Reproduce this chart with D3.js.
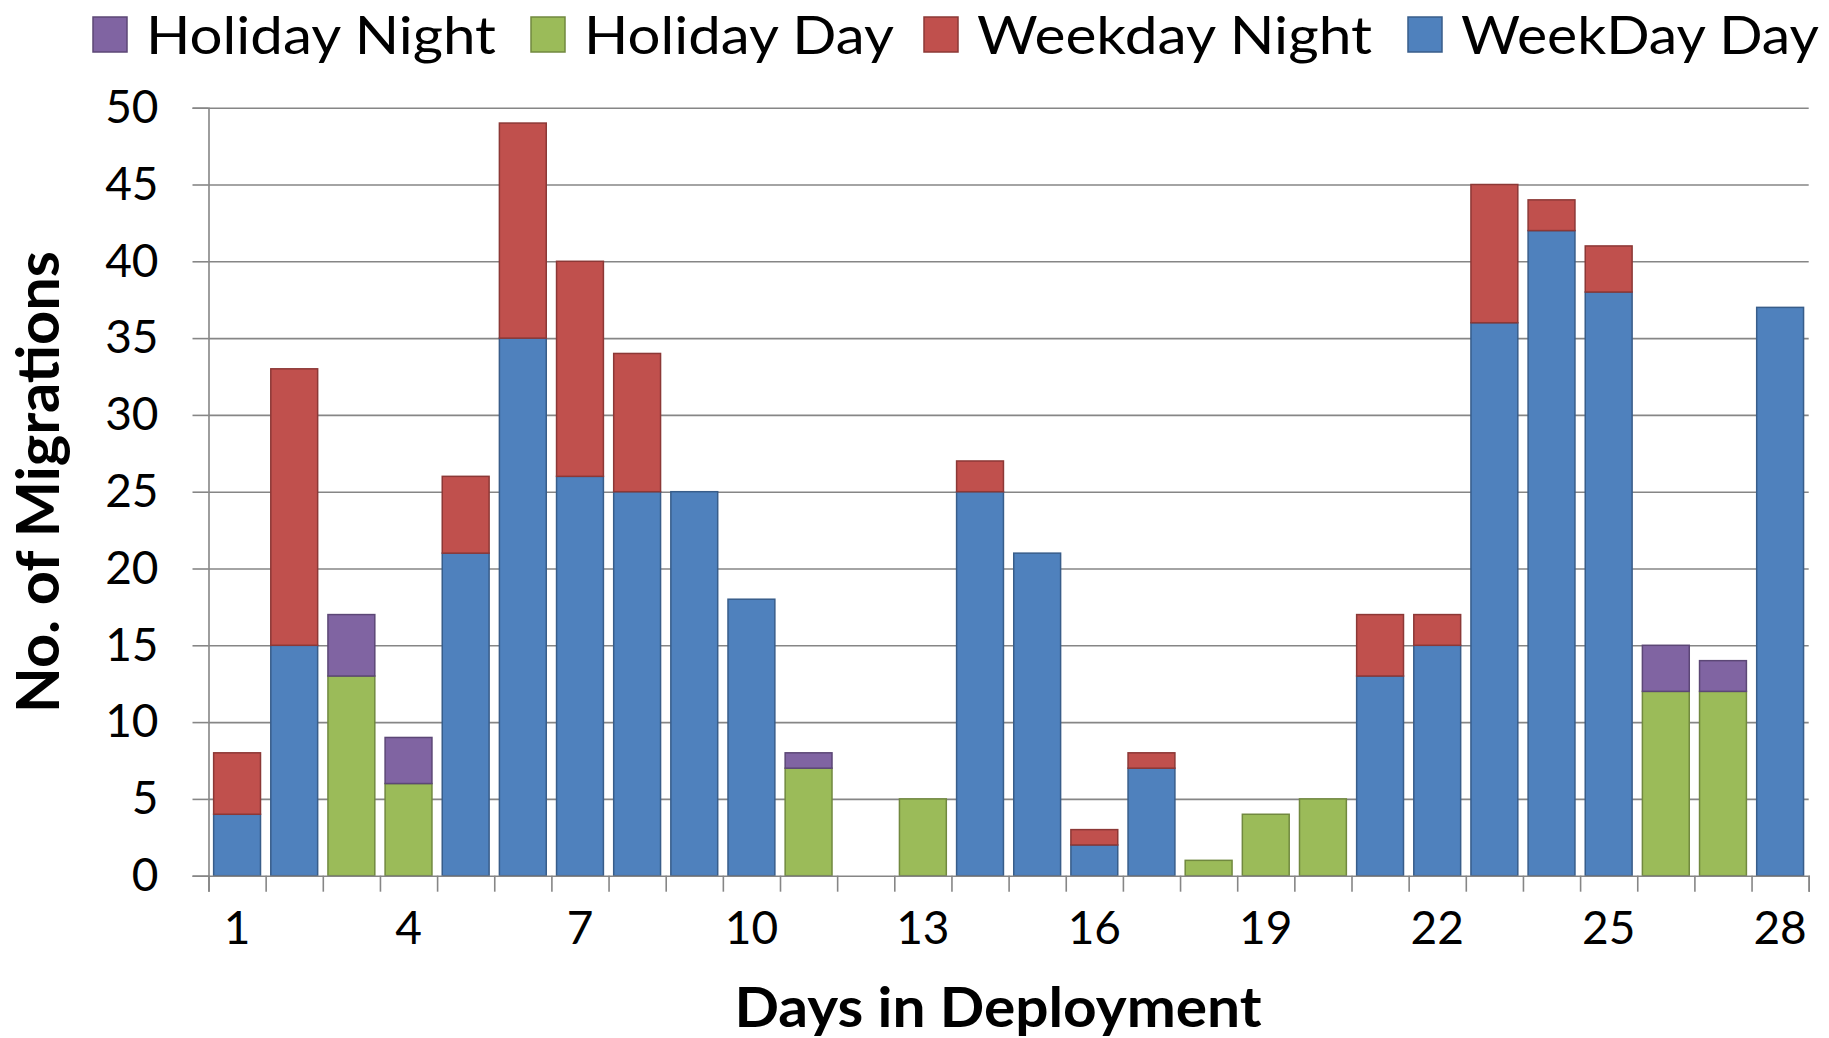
<!DOCTYPE html>
<html>
<head>
<meta charset="utf-8">
<script src="https://cdn.jsdelivr.net/npm/d3@7"></script>
<style>
  html, body { margin: 0; padding: 0; background: #ffffff; }
  svg { display: block; }
  text { font-family: Lato, "Open Sans", sans-serif; fill: #000; }
</style>
</head>
<body>
<svg id="chart" width="1829" height="1038"></svg>
<script>
// Migrations per deployment day, split by day type and time of day
const days = [1, 2, 3, 4, 5, 6, 7, 8, 9, 10, 11, 12, 13, 14, 15, 16, 17, 18, 19, 20, 21, 22, 23, 24, 25, 26, 27, 28];
const weekdayDay   = [4, 15, 0, 0, 21, 35, 26, 25, 25, 18, 0, 0, 0, 25, 21, 2, 7, 0, 0, 0, 13, 15, 36, 42, 38, 0, 0, 37];
const weekdayNight = [4, 18, 0, 0, 5, 14, 14, 9, 0, 0, 0, 0, 0, 2, 0, 1, 1, 0, 0, 0, 4, 2, 9, 2, 3, 0, 0, 0];
const holidayDay   = [0, 0, 13, 6, 0, 0, 0, 0, 0, 0, 7, 0, 5, 0, 0, 0, 0, 1, 4, 5, 0, 0, 0, 0, 0, 12, 12, 0];
const holidayNight = [0, 0, 4, 3, 0, 0, 0, 0, 0, 0, 1, 0, 0, 0, 0, 0, 0, 0, 0, 0, 0, 0, 0, 0, 0, 3, 2, 0];

const yTicks = [0, 5, 10, 15, 20, 25, 30, 35, 40, 45, 50];
const xTickLabels = [1, 4, 7, 10, 13, 16, 19, 22, 25, 28];

// Series, bottom of the stack first
const seriesKeys = ["weekdayDay", "weekdayNight", "holidayDay", "holidayNight"];
const seriesValues = { weekdayDay, weekdayNight, holidayDay, holidayNight };
const seriesStyle = {
  weekdayDay:   { fill: "#4F81BD", stroke: "#385D8A", label: "WeekDay Day" },
  weekdayNight: { fill: "#C0504D", stroke: "#8C3836", label: "Weekday Night" },
  holidayDay:   { fill: "#9BBB59", stroke: "#71893F", label: "Holiday Day" },
  holidayNight: { fill: "#8064A2", stroke: "#5C4776", label: "Holiday Night" }
};
const legendOrder = ["holidayNight", "holidayDay", "weekdayNight", "weekdayDay"];

const rows = days.map((d, i) => {
  const r = { day: d };
  seriesKeys.forEach(k => { r[k] = seriesValues[k][i]; });
  return r;
});

const svg = d3.select("#chart");
const plot = { left: 208.5, right: 1808.7, top: 107.7, bottom: 875.7 };
const axisColor = "#868686";

const x = d3.scaleBand()
  .domain(days)
  .range([plot.left, plot.right])
  .paddingInner(0.18)
  .paddingOuter(0.09);

const xEdges = d3.scaleLinear().domain([0, days.length]).range([plot.left, plot.right]);

const y = d3.scaleLinear().domain([0, 50]).range([plot.bottom, plot.top]);

// Horizontal gridlines
const grid = svg.append("g")
  .attr("transform", `translate(${plot.left},0)`)
  .call(d3.axisLeft(y).tickValues(yTicks.filter(v => v > 0)).tickSize(-(plot.right - plot.left)).tickFormat(""));
grid.select(".domain").remove();
grid.selectAll(".tick line").attr("stroke", axisColor).attr("stroke-width", 1.6);

// Stacked bars
const stacked = d3.stack().keys(seriesKeys)(rows);
svg.append("g").selectAll("g")
  .data(stacked)
  .join("g")
  .attr("fill", s => seriesStyle[s.key].fill)
  .attr("stroke", s => seriesStyle[s.key].stroke)
  .attr("stroke-width", 1.5)
  .selectAll("rect")
  .data(s => s.filter(d => d[1] > d[0]))
  .join("rect")
  .attr("x", d => x(d.data.day))
  .attr("width", x.bandwidth())
  .attr("y", d => y(d[1]))
  .attr("height", d => y(d[0]) - y(d[1]));

// Y axis with outward ticks and labels
const yAxis = svg.append("g")
  .attr("transform", `translate(${plot.left},0)`)
  .call(d3.axisLeft(y).tickValues(yTicks).tickSize(16).tickPadding(34));
yAxis.select(".domain").attr("stroke", axisColor).attr("stroke-width", 1.6);
yAxis.selectAll(".tick line").attr("stroke", axisColor).attr("stroke-width", 1.6);
yAxis.selectAll(".tick text")
  .style("font-size", "46px")
  .style("font-family", "Lato, sans-serif")
  .attr("fill", "#000");

// X axis: tick marks on category boundaries
const xAxisMarks = svg.append("g")
  .attr("transform", `translate(0,${plot.bottom})`)
  .call(d3.axisBottom(xEdges).tickValues(d3.range(0, days.length + 1)).tickSize(16).tickFormat(""));
xAxisMarks.select(".domain").attr("stroke", axisColor).attr("stroke-width", 1.6);
xAxisMarks.selectAll(".tick line").attr("stroke", axisColor).attr("stroke-width", 1.6);

// X axis labels every third day, centred on the bars
const xAxisLabels = svg.append("g")
  .attr("transform", `translate(0,${plot.bottom})`)
  .call(d3.axisBottom(x).tickValues(xTickLabels).tickSize(0).tickPadding(36));
xAxisLabels.select(".domain").remove();
xAxisLabels.selectAll(".tick text")
  .style("font-size", "46px")
  .style("font-family", "Lato, sans-serif")
  .attr("fill", "#000");

// Axis titles
svg.append("text")
  .attr("x", 998)
  .attr("y", 1027)
  .attr("text-anchor", "middle")
  .attr("textLength", 527)
  .attr("lengthAdjust", "spacingAndGlyphs")
  .style("font-size", "56px")
  .style("font-weight", "bold")
  .text("Days in Deployment");

svg.append("text")
  .attr("transform", "translate(59,482) rotate(-90)")
  .attr("text-anchor", "middle")
  .attr("textLength", 462)
  .attr("lengthAdjust", "spacingAndGlyphs")
  .style("font-size", "59px")
  .style("font-weight", "bold")
  .text("No. of Migrations");

// Legend across the top
const legendPos = { holidayNight: 93, holidayDay: 531, weekdayNight: 924, weekdayDay: 1408 };
const legendWidth = { holidayNight: 350, holidayDay: 310, weekdayNight: 395, weekdayDay: 358 };
const legend = svg.append("g").selectAll("g")
  .data(legendOrder)
  .join("g")
  .attr("transform", k => `translate(${legendPos[k]},0)`);
legend.append("rect")
  .attr("x", 0).attr("y", 17)
  .attr("width", 34).attr("height", 35)
  .attr("fill", k => seriesStyle[k].fill)
  .attr("stroke", k => seriesStyle[k].stroke)
  .attr("stroke-width", 1.5);
legend.append("text")
  .attr("x", 53)
  .attr("y", 54)
  .attr("textLength", k => legendWidth[k])
  .attr("lengthAdjust", "spacingAndGlyphs")
  .style("font-size", "53px")
  .text(k => seriesStyle[k].label);
</script>
</body>
</html>
